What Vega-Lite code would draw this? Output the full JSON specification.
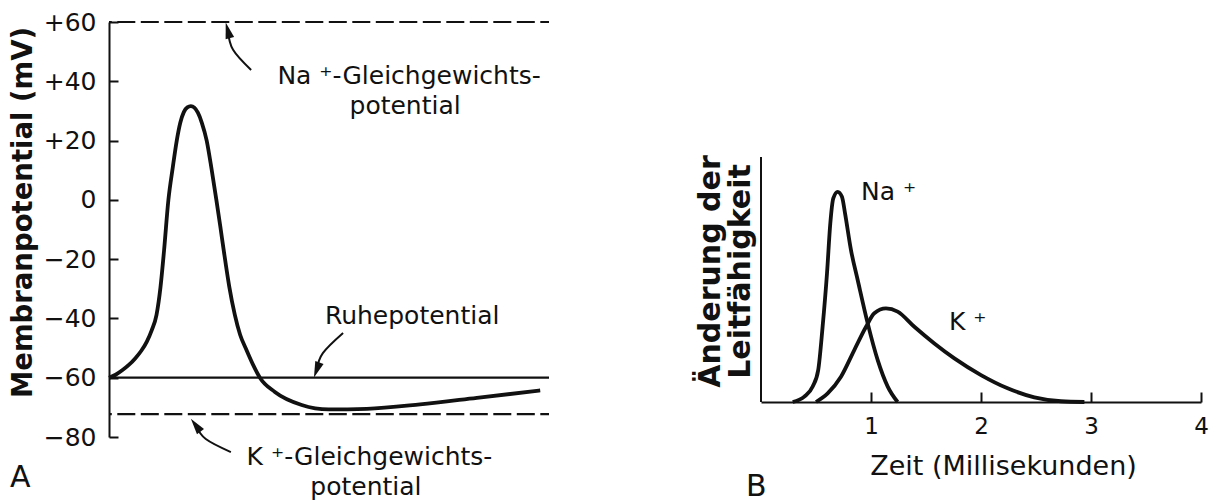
{
  "$schema": "https://vega.github.io/schema/vega-lite/v6.json",
  "background": "white",
  "padding": {"left": 9, "top": 10, "right": 0, "bottom": 0},
  "bounds": "flush",
  "spacing": 212,
  "config": {
    "font": "DejaVu Sans",
    "view": {"stroke": null},
    "axis": {"grid": false, "domainColor": "#111", "tickColor": "#111", "labelColor": "#111", "titleColor": "#111", "domainWidth": 2, "tickWidth": 2}
  },
  "datasets": {
    "ap": [
      {"t": 0, "v": -60}, {"t": 0.15, "v": -59}, {"t": 0.3, "v": -57.5}, {"t": 0.45, "v": -55.7},
      {"t": 0.6, "v": -53.4}, {"t": 0.73, "v": -51}, {"t": 0.86, "v": -47.8}, {"t": 0.97, "v": -44},
      {"t": 1.08, "v": -38.8}, {"t": 1.17, "v": -29.5}, {"t": 1.25, "v": -17.3}, {"t": 1.35, "v": 0},
      {"t": 1.45, "v": 11}, {"t": 1.54, "v": 20}, {"t": 1.62, "v": 26}, {"t": 1.70, "v": 29.6},
      {"t": 1.78, "v": 31.2}, {"t": 1.86, "v": 31.6}, {"t": 1.94, "v": 31.1}, {"t": 2.02, "v": 29.4},
      {"t": 2.11, "v": 26}, {"t": 2.22, "v": 20}, {"t": 2.33, "v": 10.5}, {"t": 2.44, "v": 0},
      {"t": 2.53, "v": -9}, {"t": 2.61, "v": -17.3}, {"t": 2.73, "v": -29}, {"t": 2.86, "v": -38.8},
      {"t": 2.98, "v": -45.5}, {"t": 3.12, "v": -50.5}, {"t": 3.27, "v": -55.5}, {"t": 3.43, "v": -60},
      {"t": 3.77, "v": -64.8}, {"t": 4.38, "v": -69.2}, {"t": 4.99, "v": -70.7}, {"t": 5.86, "v": -70.5},
      {"t": 7.07, "v": -69}, {"t": 8.36, "v": -66.8}, {"t": 9.8, "v": -64.3}
    ],
    "levels": [{"v": 60}, {"v": -72.3}],
    "rest": [{"v": -60}],
    "arrows": [
      {"id": "na", "o": 0, "t": 3.23, "v": 43.8}, {"id": "na", "o": 1, "t": 2.82, "v": 50.6}, {"id": "na", "o": 2, "t": 2.70, "v": 57.2},
      {"id": "rp", "o": 0, "t": 5.32, "v": -44.9}, {"id": "rp", "o": 1, "t": 4.86, "v": -51.7}, {"id": "rp", "o": 2, "t": 4.72, "v": -57.4},
      {"id": "k", "o": 0, "t": 2.77, "v": -85.1}, {"id": "k", "o": 1, "t": 2.2, "v": -80.7}, {"id": "k", "o": 2, "t": 1.97, "v": -76}
    ],
    "heads": [
      {"t": 2.70, "v": 57.2, "a": -15},
      {"t": 4.72, "v": -57.4, "a": 200},
      {"t": 1.97, "v": -76, "a": -37}
    ],
    "labelsA": [
      {"t": 6.82, "v": 39.1, "s": "Na ⁺-Gleichgewichts-"},
      {"t": 6.73, "v": 29.0, "s": "potential"},
      {"t": 6.89, "v": -41.8, "s": "Ruhepotential"},
      {"t": 5.92, "v": -89.6, "s": "K ⁺-Gleichgewichts-"},
      {"t": 5.84, "v": -99.6, "s": "potential"}
    ],
    "panelA": [{"t": -2.25, "v": -96.9, "s": "A"}],
    "cond": [
      {"ion": "Na", "t": 0.288, "c": 0}, {"ion": "Na", "t": 0.394, "c": 2.2}, {"ion": "Na", "t": 0.47, "c": 6.3},
      {"ion": "Na", "t": 0.52, "c": 13}, {"ion": "Na", "t": 0.56, "c": 30.7}, {"ion": "Na", "t": 0.6, "c": 52.5},
      {"ion": "Na", "t": 0.63, "c": 72.9}, {"ion": "Na", "t": 0.657, "c": 83.1}, {"ion": "Na", "t": 0.697, "c": 85.8},
      {"ion": "Na", "t": 0.736, "c": 83.8}, {"ion": "Na", "t": 0.764, "c": 77}, {"ion": "Na", "t": 0.818, "c": 62},
      {"ion": "Na", "t": 0.879, "c": 49.8}, {"ion": "Na", "t": 0.97, "c": 32.1}, {"ion": "Na", "t": 1.061, "c": 17.1},
      {"ion": "Na", "t": 1.152, "c": 6.3}, {"ion": "Na", "t": 1.242, "c": 0},
      {"ion": "K", "t": 0.5, "c": 0}, {"ion": "K", "t": 0.606, "c": 3.5}, {"ion": "K", "t": 0.727, "c": 10.3},
      {"ion": "K", "t": 0.848, "c": 21.2}, {"ion": "K", "t": 0.955, "c": 30.7}, {"ion": "K", "t": 1.03, "c": 36.2},
      {"ion": "K", "t": 1.136, "c": 38.2}, {"ion": "K", "t": 1.242, "c": 36.9}, {"ion": "K", "t": 1.394, "c": 30.7},
      {"ion": "K", "t": 1.576, "c": 23.9}, {"ion": "K", "t": 1.758, "c": 17.8}, {"ion": "K", "t": 2.0, "c": 11},
      {"ion": "K", "t": 2.242, "c": 5.6}, {"ion": "K", "t": 2.485, "c": 1.9}, {"ion": "K", "t": 2.727, "c": 0.3},
      {"ion": "K", "t": 2.94, "c": 0}
    ],
    "yline": [{"t": 0, "c0": 0, "c1": 100}],
    "labelsB": [
      {"t": 0.909, "c": 82.4, "s": "Na ⁺"},
      {"t": 1.709, "c": 29.4, "s": "K ⁺"}
    ],
    "panelB": [{"t": -0.136, "c": -38.4, "s": "B"}]
  },
  "hconcat": [
    {
      "width": 440,
      "height": 415,
      "layer": [
        {
          "data": {"name": "levels"},
          "mark": {"type": "rule", "strokeDash": [18, 5.5], "strokeDashOffset": 9.3, "strokeWidth": 2.2, "color": "#111"},
          "encoding": {
            "y": {
              "field": "v", "type": "quantitative",
              "scale": {"domain": [-80, 60], "nice": false},
              "axis": {
                "values": [-80, -60, -40, -20, 0, 20, 40, 60],
                "tickSize": -9,
                "labelPadding": 22,
                "labelFontSize": 25,
                "labelExpr": "datum.value > 0 ? '+' + datum.value : (datum.value < 0 ? '−' + abs(datum.value) : '0')",
                "title": "Membranpotential (mV)",
                "titleFontSize": 27.5,
                "titleFontWeight": "bold",
                "titleY": 190,
                "titlePadding": 6
              }
            }
          }
        },
        {
          "data": {"name": "rest"},
          "mark": {"type": "rule", "strokeWidth": 2.2, "color": "#111"},
          "encoding": {"y": {"field": "v", "type": "quantitative"}}
        },
        {
          "data": {"name": "ap"},
          "mark": {"type": "line", "interpolate": "monotone", "strokeWidth": 3.8, "color": "#111", "clip": false},
          "encoding": {
            "x": {"field": "t", "type": "quantitative", "scale": {"domain": [0, 10], "nice": false}, "axis": null},
            "y": {"field": "v", "type": "quantitative"}
          }
        },
        {
          "data": {"name": "arrows"},
          "mark": {"type": "line", "interpolate": "natural", "strokeWidth": 2, "color": "#111", "clip": false},
          "encoding": {
            "x": {"field": "t", "type": "quantitative"},
            "y": {"field": "v", "type": "quantitative"},
            "detail": {"field": "id"},
            "order": {"field": "o"}
          }
        },
        {
          "data": {"name": "heads"},
          "mark": {"type": "point", "shape": "M0,-1L0.55,1L-0.55,1Z", "filled": true, "size": 256, "opacity": 1, "color": "#111", "clip": false},
          "encoding": {
            "x": {"field": "t", "type": "quantitative"},
            "y": {"field": "v", "type": "quantitative"},
            "angle": {"field": "a", "type": "quantitative", "scale": null}
          }
        },
        {
          "data": {"name": "labelsA"},
          "mark": {"type": "text", "align": "center", "baseline": "alphabetic", "fontSize": 25, "color": "#111", "clip": false},
          "encoding": {
            "x": {"field": "t", "type": "quantitative"},
            "y": {"field": "v", "type": "quantitative"},
            "text": {"field": "s"}
          }
        },
        {
          "data": {"name": "panelA"},
          "mark": {"type": "text", "align": "left", "baseline": "alphabetic", "fontSize": 30, "color": "#111", "clip": false},
          "encoding": {
            "x": {"field": "t", "type": "quantitative"},
            "y": {"field": "v", "type": "quantitative"},
            "text": {"field": "s"}
          }
        }
      ]
    },
    {
      "width": 440,
      "height": 380,
      "layer": [
        {
          "data": {"name": "cond"},
          "mark": {"type": "line", "interpolate": "monotone", "strokeWidth": 3.8, "color": "#111", "clip": false},
          "encoding": {
            "x": {
              "field": "t", "type": "quantitative",
              "scale": {"domain": [0, 4], "nice": false},
              "axis": {
                "values": [1, 2, 3, 4],
                "format": "d",
                "tickSize": -10,
                "labelPadding": 23,
                "labelFontSize": 23,
                "labelFlush": false,
                "title": "Zeit (Millisekunden)",
                "titleFontSize": 27,
                "titleFontWeight": "normal",
                "titleX": 242,
                "titleY": 72,
                "titleBaseline": "alphabetic",
                "titleAlign": "center"
              }
            },
            "y": {
              "field": "c", "type": "quantitative",
              "scale": {"domain": [0, 155.1], "nice": false},
              "axis": {
                "domain": false,
                "ticks": false,
                "labels": false,
                "title": ["Änderung der", "Leitfähigkeit"],
                "titleFontSize": 30,
                "titleFontWeight": "bold",
                "titleLineHeight": 30,
                "titleY": 249,
                "titlePadding": 6
              }
            },
            "detail": {"field": "ion"}
          }
        },
        {
          "data": {"name": "yline"},
          "mark": {"type": "rule", "strokeWidth": 2, "color": "#111"},
          "encoding": {
            "x": {"field": "t", "type": "quantitative"},
            "y": {"field": "c0", "type": "quantitative"},
            "y2": {"field": "c1"}
          }
        },
        {
          "data": {"name": "labelsB"},
          "mark": {"type": "text", "align": "left", "baseline": "alphabetic", "fontSize": 25, "color": "#111", "clip": false},
          "encoding": {
            "x": {"field": "t", "type": "quantitative"},
            "y": {"field": "c", "type": "quantitative"},
            "text": {"field": "s"}
          }
        },
        {
          "data": {"name": "panelB"},
          "mark": {"type": "text", "align": "left", "baseline": "alphabetic", "fontSize": 30, "color": "#111", "clip": false},
          "encoding": {
            "x": {"field": "t", "type": "quantitative"},
            "y": {"field": "c", "type": "quantitative"},
            "text": {"field": "s"}
          }
        }
      ]
    }
  ]
}
